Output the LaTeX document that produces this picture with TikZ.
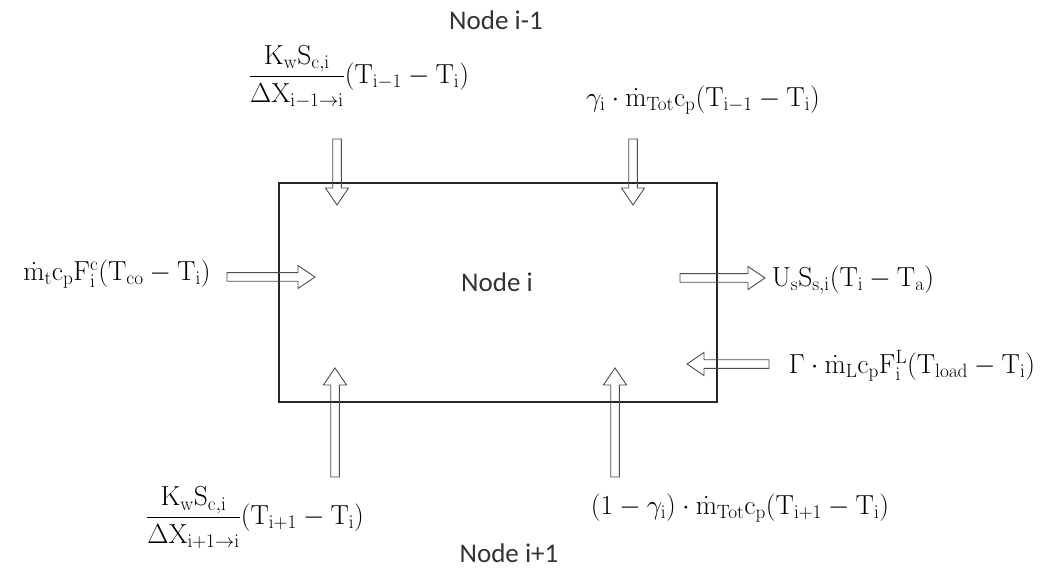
\RequirePackage{fix-cm}
\documentclass[tikz,border=0pt]{standalone}
\usepackage[no-math]{fontspec}
\setmainfont{Carlito}
\usepackage{amsmath}
\usetikzlibrary{calc}
\tikzset{
  box/.style={draw=black!85, line width=1.3pt, minimum width=438pt, minimum height=219pt, inner sep=0pt},
  lab/.style={font=\fontsize{27.5}{32}\selectfont, inner sep=0pt},
  nodelab/.style={font=\fontsize{27}{32}\selectfont, text=black!80, inner sep=0pt},
  barrow/.style={draw=black!70, line width=0.9pt, line join=miter},
}
\newcommand\blockarrow[2]{%
  \coordinate (bah) at ($(#2)!17pt!(#1)$);
  \draw[barrow] ($(#1)!4.3pt!90:(#2)$) -- ($(bah)!4.3pt!90:(#2)$) -- ($(bah)!11.5pt!90:(#2)$)
    -- (#2) -- ($(bah)!11.5pt!-90:(#2)$) -- ($(bah)!4.3pt!-90:(#2)$) -- ($(#1)!4.3pt!-90:(#2)$) -- cycle;
}
\begin{document}
\begin{tikzpicture}[x=1pt,y=-1pt]
\useasboundingbox (0,0) rectangle (1047,569);
\fill[white] (0,0) rectangle (1047,569);

\node[box] (box) at (498,292.5) {};
\node[nodelab] (ni) at (497,282) {Node i};
\node[nodelab] (nup) at (496,20) {Node i-1};
\node[nodelab] (ndn) at (509,553) {Node i+1};

\node[lab] (l1) at (359,77) {$\dfrac{\mathrm{K_w S_{c,i}}}{\Delta\mathrm{X_{i-1\to i}}}\mathrm{(T_{i-1}-T_i)}$};
\node[lab] (l2) at (703,100) {$\gamma_{\mathrm{i}}\cdot\dot{\mathrm{m}}_{\mathrm{Tot}}\mathrm{c_p(T_{i-1}-T_i)}$};
\node[lab] (l3) at (117,274) {$\dot{\mathrm{m}}_{\mathrm{t}}\mathrm{c_p F_i^c(T_{co}-T_i)}$};
\node[lab] (l4) at (853,280) {$\mathrm{U_s S_{s,i}(T_i-T_a)}$};
\node[lab] (l5) at (912,366) {$\Gamma\cdot\dot{\mathrm{m}}_{\mathrm{L}}\mathrm{c_p F_i^L(T_{load}-T_i)}$};
\node[lab] (l6) at (255,518) {$\dfrac{\mathrm{K_w S_{c,i}}}{\Delta\mathrm{X_{i+1\to i}}}\mathrm{(T_{i+1}-T_i)}$};
\node[lab] (l7) at (740,508) {$(1-\gamma_{\mathrm{i}})\cdot\dot{\mathrm{m}}_{\mathrm{Tot}}\mathrm{c_p(T_{i+1}-T_i)}$};

\coordinate (a1s) at (337,139); \coordinate (a1e) at (337,205);
\coordinate (a2s) at (633,139); \coordinate (a2e) at (633,205);
\coordinate (a3s) at (227,277); \coordinate (a3e) at (315,277);
\coordinate (a4s) at (680,278); \coordinate (a4e) at (765,278);
\coordinate (a5s) at (769,364); \coordinate (a5e) at (687,364);
\coordinate (a6s) at (335,477); \coordinate (a6e) at (335,368);
\coordinate (a7s) at (615,477); \coordinate (a7e) at (615,368);
\blockarrow{a1s}{a1e}
\blockarrow{a2s}{a2e}
\blockarrow{a3s}{a3e}
\blockarrow{a4s}{a4e}
\blockarrow{a5s}{a5e}
\blockarrow{a6s}{a6e}
\blockarrow{a7s}{a7e}
\end{tikzpicture}
\end{document}
